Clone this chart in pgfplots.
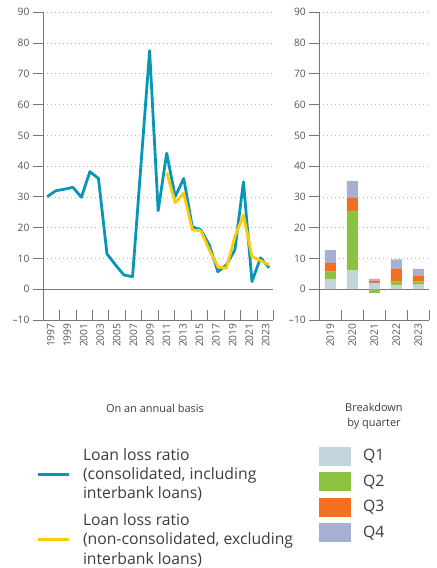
\documentclass[border=0pt]{standalone}
\usepackage{fontspec}
\setmainfont{Open Sans}
\usepackage{pgfplots}
\pgfplotsset{compat=1.18}
\definecolor{lineblue}{RGB}{8,150,184}
\definecolor{lineyellow}{RGB}{255,203,5}
\definecolor{qone}{RGB}{195,212,222}
\definecolor{qtwo}{RGB}{139,194,65}
\definecolor{qthree}{RGB}{243,112,33}
\definecolor{qfour}{RGB}{167,176,211}
\definecolor{axisgray}{RGB}{120,120,120}
\definecolor{gridgray}{RGB}{185,185,185}
\definecolor{labelgray}{RGB}{85,85,85}
\definecolor{textgray}{RGB}{60,60,60}

\pgfplotsset{
  base/.style={
    scale only axis,
    height=307.7bp,
    ymin=-10, ymax=90,
    ytick={-10,0,...,90},
    yticklabels={\textendash10,0,10,20,30,40,50,60,70,80,90},
    axis x line=bottom, axis y line=left,
    axis line style={-, draw=axisgray, line width=0.9bp},
    every outer x axis line/.append style={-},
    every outer y axis line/.append style={-},
    tick align=outside,
    major tick length=10bp,
    tick style={draw=axisgray, line width=0.9bp},
    xtick style={yshift=10bp},
    ymajorgrids,
    major grid style={draw=gridgray, line width=0.8bp, dash pattern=on 0.8bp off 3.2bp},
    extra y ticks={0},
    extra y tick labels={},
    extra y tick style={major tick length=0pt, grid=major, major grid style={solid, draw=axisgray, line width=0.9bp}},
    ticklabel style={font=\fontsize{10.3}{12}\selectfont, text=labelgray},
    xticklabel style={rotate=90, anchor=east},
    xticklabels={},
    extra x tick style={major tick length=0pt, grid=none},
    /pgf/number format/assume math mode=true,
    legend cell align=left,
  },
}

\begin{document}
\begin{tikzpicture}
\useasboundingbox (0bp,0bp) rectangle (437bp,568bp);

% ---------------- left: annual -----------------
\begin{axis}[base,
  at={(43bp,248bp)}, anchor=south west, width=230.3bp,
  xmin=1996.5, xmax=2023.5,
  xtick={1998.44,2000.37,2002.30,2004.23,2006.16,2008.09,2010.02,2011.95,2013.88,2015.81,2017.74,2019.67,2021.60,2023.5},
  extra x ticks={1997.39,1999.33,2001.27,2003.21,2005.15,2007.09,2009.03,2010.97,2012.91,2014.85,2016.79,2018.73,2020.67,2022.61},
  extra x tick labels={1997,1999,2001,2003,2005,2007,2009,2011,2013,2015,2017,2019,2021,2023},
  xlabel={On an annual basis},
  xlabel style={at={(axis description cs:0.486,-0.286)}, anchor=center, font=\fontsize{11}{14}\selectfont, text=textgray},
  legend style={at={(axis description cs:-0.0304,-0.417)}, anchor=north west,
    draw=none, fill=none, inner sep=0pt, outer sep=0pt, row sep=13.5bp, column sep=13bp,
    font=\fontsize{15.8}{19.3}\selectfont,
    nodes={inner sep=0pt, text=textgray, align=left}},
  legend image code/.code={\draw[#1, line width=3bp] (0bp,0bp) -- (31bp,0bp);},
]
\addplot[lineblue, line width=2.8bp, line join=round] coordinates {
(1997,30.1) (1998,32) (1999,32.5) (2000,33.1) (2001,29.9) (2002,38.2) (2003,36)
(2004,11.5) (2005,7.9) (2006,4.6) (2007,4.1) (2008,41) (2009,77.5) (2010,25.5)
(2011,44.2) (2012,30.1) (2013,36) (2014,20.3) (2015,19.3) (2016,14.4) (2017,5.7)
(2018,7.9) (2019,12.8) (2020,34.9) (2021,2.5) (2022,10.2) (2023,7.0)};
\addlegendentry{Loan loss ratio\\(consolidated, including\\interbank loans)}
\addplot[lineyellow, line width=2.8bp, line join=round] coordinates {
(2011,37.9) (2012,28.1) (2013,31.2) (2014,19.3) (2015,19) (2016,12.8) (2017,7.3)
(2018,6.8) (2019,17.1) (2020,24.1) (2021,10.6) (2022,9.3) (2023,7.9)};
\addlegendentry{Loan loss ratio\\(non-consolidated, excluding\\interbank loans)}
\end{axis}

% ---------------- right: quarterly breakdown -----------------
\begin{axis}[base,
  at={(319.3bp,248bp)}, anchor=south west, width=110bp,
  xmin=2018.5, xmax=2023.5,
  xtick={2019.5,2020.5,2021.5,2022.5,2023.5},
  extra x ticks={2019,2020,2021,2022,2023},
  extra x tick labels={2019,2020,2021,2022,2023},
  ybar stacked, bar width=0.5,
  xlabel={Breakdown\\by quarter},
  xlabel style={align=center, at={(axis description cs:0.497,-0.312)}, anchor=center, font=\fontsize{11}{15}\selectfont, text=textgray},
  legend style={at={(axis description cs:-0.003,-0.412)}, anchor=north west,
    draw=none, fill=none, inner sep=0pt, outer sep=0pt, row sep=7bp, column sep=12.7bp,
    font=\fontsize{15.8}{19}\selectfont,
    nodes={inner sep=0pt, text=textgray}},
]
\addplot[fill=qone, draw=none, forget plot] coordinates {(2019,3.3) (2020,6.2) (2021,2.1) (2022,1.3) (2023,1.5)};
\addplot[fill=qtwo, draw=none, forget plot] coordinates {(2019,2.4) (2020,19.3) (2021,0) (2022,1.2) (2023,1.0)};
\addplot[fill=qthree, draw=none, forget plot] coordinates {(2019,2.9) (2020,4.2) (2021,0.7) (2022,4.1) (2023,2.0)};
\addplot[fill=qfour, draw=none, forget plot] coordinates {(2019,4.1) (2020,5.4) (2021,0.6) (2022,3.1) (2023,2.1)};
\addlegendimage{legend image code/.code={\fill[qone] (0bp,-9bp) rectangle (31bp,9bp);}}
\addlegendentry{Q1}
\addlegendimage{legend image code/.code={\fill[qtwo] (0bp,-9bp) rectangle (31bp,9bp);}}
\addlegendentry{Q2}
\addlegendimage{legend image code/.code={\fill[qthree] (0bp,-9bp) rectangle (31bp,9bp);}}
\addlegendentry{Q3}
\addlegendimage{legend image code/.code={\fill[qfour] (0bp,-9bp) rectangle (31bp,9bp);}}
\addlegendentry{Q4}
\end{axis}

% negative Q2 value of 2021, drawn below zero
\begin{axis}[scale only axis, hide axis,
  at={(319.3bp,248bp)}, anchor=south west, width=110bp, height=307.7bp,
  xmin=2018.5, xmax=2023.5, ymin=-10, ymax=90,
  ybar, bar width=0.5]
\addplot[fill=qtwo, draw=none, bar shift=0pt] coordinates {(2021,-1.2)};
\end{axis}
\end{tikzpicture}
\end{document}
